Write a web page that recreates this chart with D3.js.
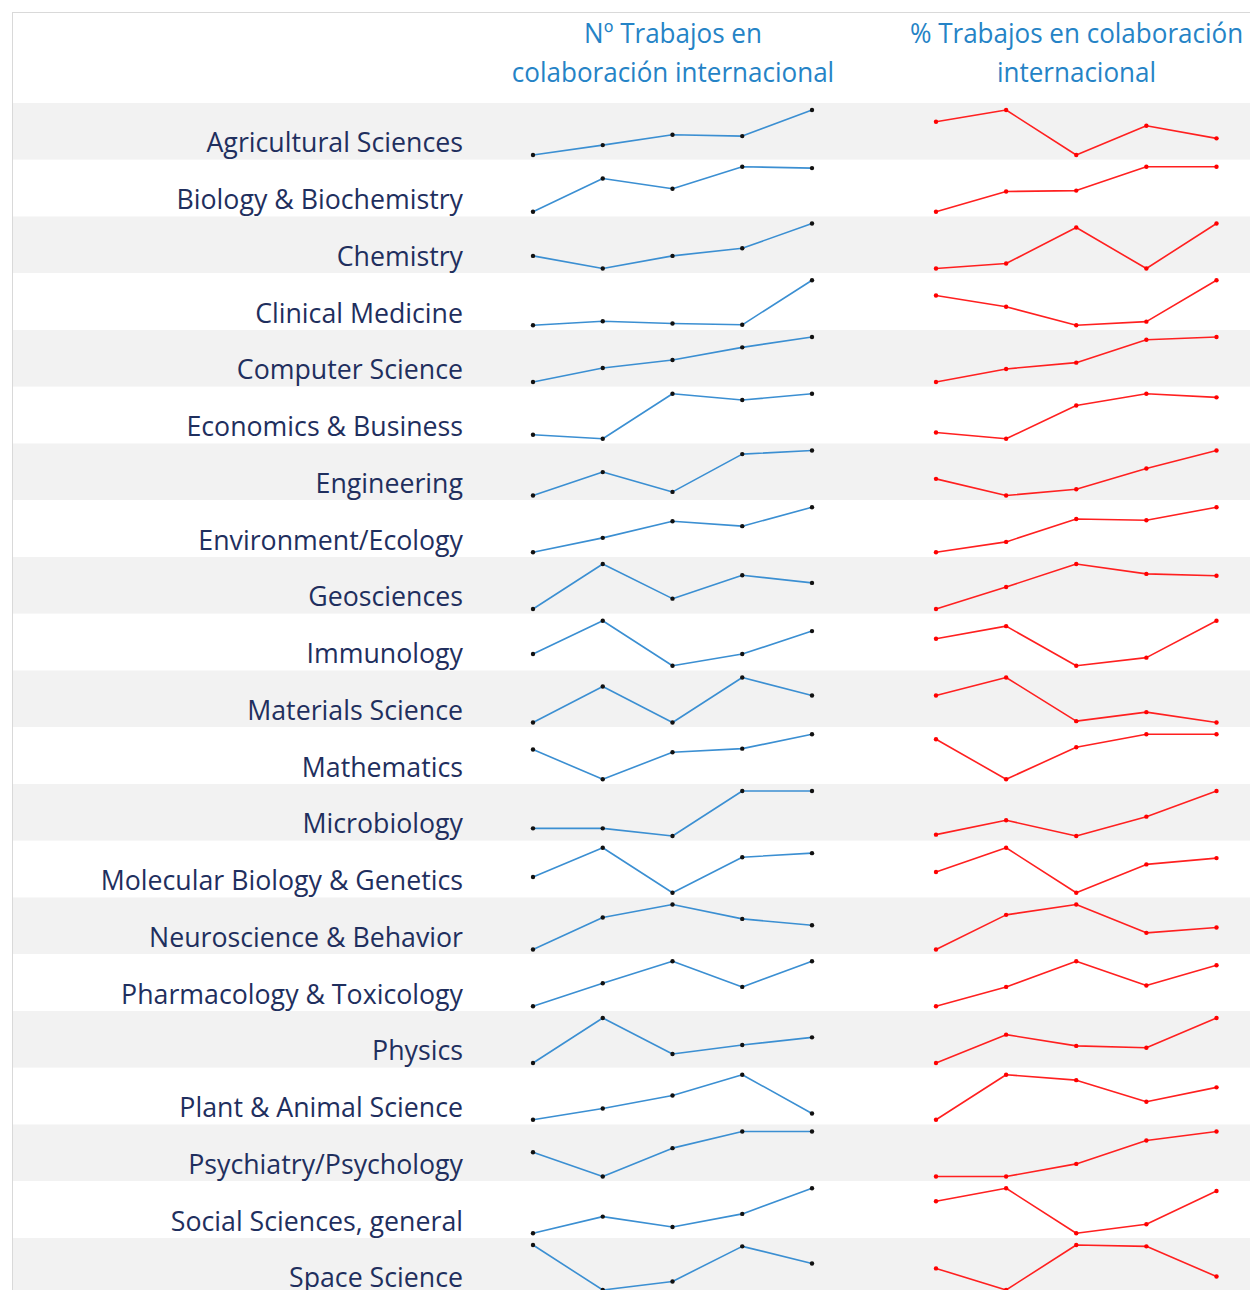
<!DOCTYPE html>
<html>
<head>
<meta charset="utf-8">
<script src="https://cdn.jsdelivr.net/npm/d3@7"></script>
<style>
  html, body { margin: 0; padding: 0; background: #ffffff; }
  svg { display: block; }
</style>
</head>
<body>
<svg id="chart" width="1250" height="1290"></svg>
<script>
// Research fields, one row each
const categories = [
  "Agricultural Sciences",
  "Biology & Biochemistry",
  "Chemistry",
  "Clinical Medicine",
  "Computer Science",
  "Economics & Business",
  "Engineering",
  "Environment/Ecology",
  "Geosciences",
  "Immunology",
  "Materials Science",
  "Mathematics",
  "Microbiology",
  "Molecular Biology & Genetics",
  "Neuroscience & Behavior",
  "Pharmacology & Toxicology",
  "Physics",
  "Plant & Animal Science",
  "Psychiatry/Psychology",
  "Social Sciences, general",
  "Space Science"
];

// Column headers (two lines each)
const headerCount = ["Nº Trabajos en", "colaboración internacional"];
const headerPct = ["% Trabajos en colaboración", "internacional"];

// Five consecutive periods per sparkline
const periods = [1, 2, 3, 4, 5];

// Nº of internationally co-authored papers, relative level per period (row min = 0, row max = 100)
const nTrabajos = [
  [0, 22, 45, 42, 100],
  [0, 74, 51, 100, 97],
  [28, 0, 28, 45, 100],
  [0, 9, 4, 1, 100],
  [0, 31, 49, 77, 100],
  [9, 0, 100, 86, 100],
  [0, 52, 8, 92, 100],
  [0, 32, 69, 58, 100],
  [0, 100, 23, 75, 58],
  [26, 100, 0, 26, 77],
  [0, 80, 0, 100, 60],
  [66, 0, 60, 68, 100],
  [17, 17, 0, 100, 100],
  [35, 100, 0, 79, 88],
  [0, 71, 100, 68, 54],
  [0, 51, 100, 43, 100],
  [0, 100, 20, 40, 57],
  [0, 25, 54, 100, 14],
  [54, 0, 63, 100, 100],
  [0, 37, 14, 43, 100],
  [100, 0, 19, 97, 59]
];

// % of internationally co-authored papers, relative level per period (row min = 0, row max = 100)
const pctTrabajos = [
  [74, 100, 0, 65, 37],
  [0, 45, 47, 100, 100],
  [0, 11, 91, 0, 100],
  [66, 41, 0, 8, 100],
  [0, 29, 43, 94, 100],
  [14, 0, 74, 100, 92],
  [37, 0, 14, 60, 100],
  [0, 23, 74, 71, 100],
  [0, 49, 100, 78, 74],
  [60, 88, 0, 18, 100],
  [60, 100, 3, 23, 0],
  [89, 0, 71, 100, 100],
  [3, 35, 0, 43, 100],
  [46, 100, 0, 63, 77],
  [0, 77, 100, 37, 49],
  [0, 43, 100, 46, 91],
  [0, 63, 38, 34, 100],
  [0, 100, 88, 40, 72],
  [0, 0, 28, 80, 100],
  [71, 100, 0, 20, 94],
  [48, 0, 100, 97, 30]
];

const W = 1250, H = 1290;
const tableLeft = 12, tableTop = 12;
const bodyTop = 103, rowH = 56.75;
const labelX = 463;
const textFont = "'Open Sans', 'Noto Sans', sans-serif";
const labelScaleX = 0.955;
const headerScaleX = 0.93;

const svg = d3.select("#chart");

// Row positions
const rowY = d3.scaleLinear().domain([0, 1]).range([bodyTop, bodyTop + rowH]);

// Sparkline x positions for each column
const xCount = d3.scalePoint().domain(periods).range([533, 812]);
const xPct = d3.scalePoint().domain(periods).range([936, 1216.5]);

// Alternating row bands
svg.append("g")
  .selectAll("rect")
  .data(categories)
  .join("rect")
  .attr("x", tableLeft + 1)
  .attr("y", (d, i) => rowY(i))
  .attr("width", W - tableLeft - 1)
  .attr("height", rowH)
  .attr("fill", (d, i) => i % 2 === 0 ? "#f2f2f2" : "#ffffff");

// Table frame (top and left edges)
svg.append("line")
  .attr("x1", tableLeft).attr("x2", W)
  .attr("y1", tableTop + 0.5).attr("y2", tableTop + 0.5)
  .attr("stroke", "#d9d9d9").attr("stroke-width", 1);
svg.append("line")
  .attr("x1", tableLeft + 0.5).attr("x2", tableLeft + 0.5)
  .attr("y1", tableTop).attr("y2", H)
  .attr("stroke", "#d9d9d9").attr("stroke-width", 1);

// Column headers
function header(lines, cx) {
  const g = svg.append("g");
  lines.forEach((t, k) => {
    g.append("g")
      .attr("transform", `translate(${cx},${43 + k * 38.5}) scale(${headerScaleX},1)`)
      .append("text")
      .attr("text-anchor", "middle")
      .attr("font-family", textFont)
      .attr("font-size", 28)
      .attr("fill", "#2583c6")
      .text(t);
  });
}
header(headerCount, 673);
header(headerPct, 1076.5);

// Category labels
svg.append("g")
  .selectAll("g")
  .data(categories)
  .join("g")
  .attr("transform", (d, i) => `translate(${labelX},${rowY(i) + 49.3}) scale(${labelScaleX},1)`)
  .append("text")
  .attr("text-anchor", "end")
  .attr("font-family", textFont)
  .attr("font-size", 28)
  .attr("fill", "#1f2f5e")
  .text(d => d);

// One sparkline per row
function sparklines(data, x, lineColor, dotColor) {
  const g = svg.append("g");
  data.forEach((vals, i) => {
    const top = rowY(i);
    const y = d3.scaleLinear().domain(d3.extent(vals)).range([top + 52, top + 7]);
    const pts = vals.map((v, k) => [x(periods[k]), y(v)]);
    g.append("path")
      .attr("d", d3.line()(pts))
      .attr("fill", "none")
      .attr("stroke", lineColor)
      .attr("stroke-width", 1.6)
      .attr("stroke-linejoin", "round");
    g.selectAll(null)
      .data(pts)
      .join("circle")
      .attr("cx", d => d[0])
      .attr("cy", d => d[1])
      .attr("r", 2.2)
      .attr("fill", dotColor);
  });
}
sparklines(nTrabajos, xCount, "#3b8fd2", "#111111");
sparklines(pctTrabajos, xPct, "#ff2020", "#ff0000");
</script>
</body>
</html>
